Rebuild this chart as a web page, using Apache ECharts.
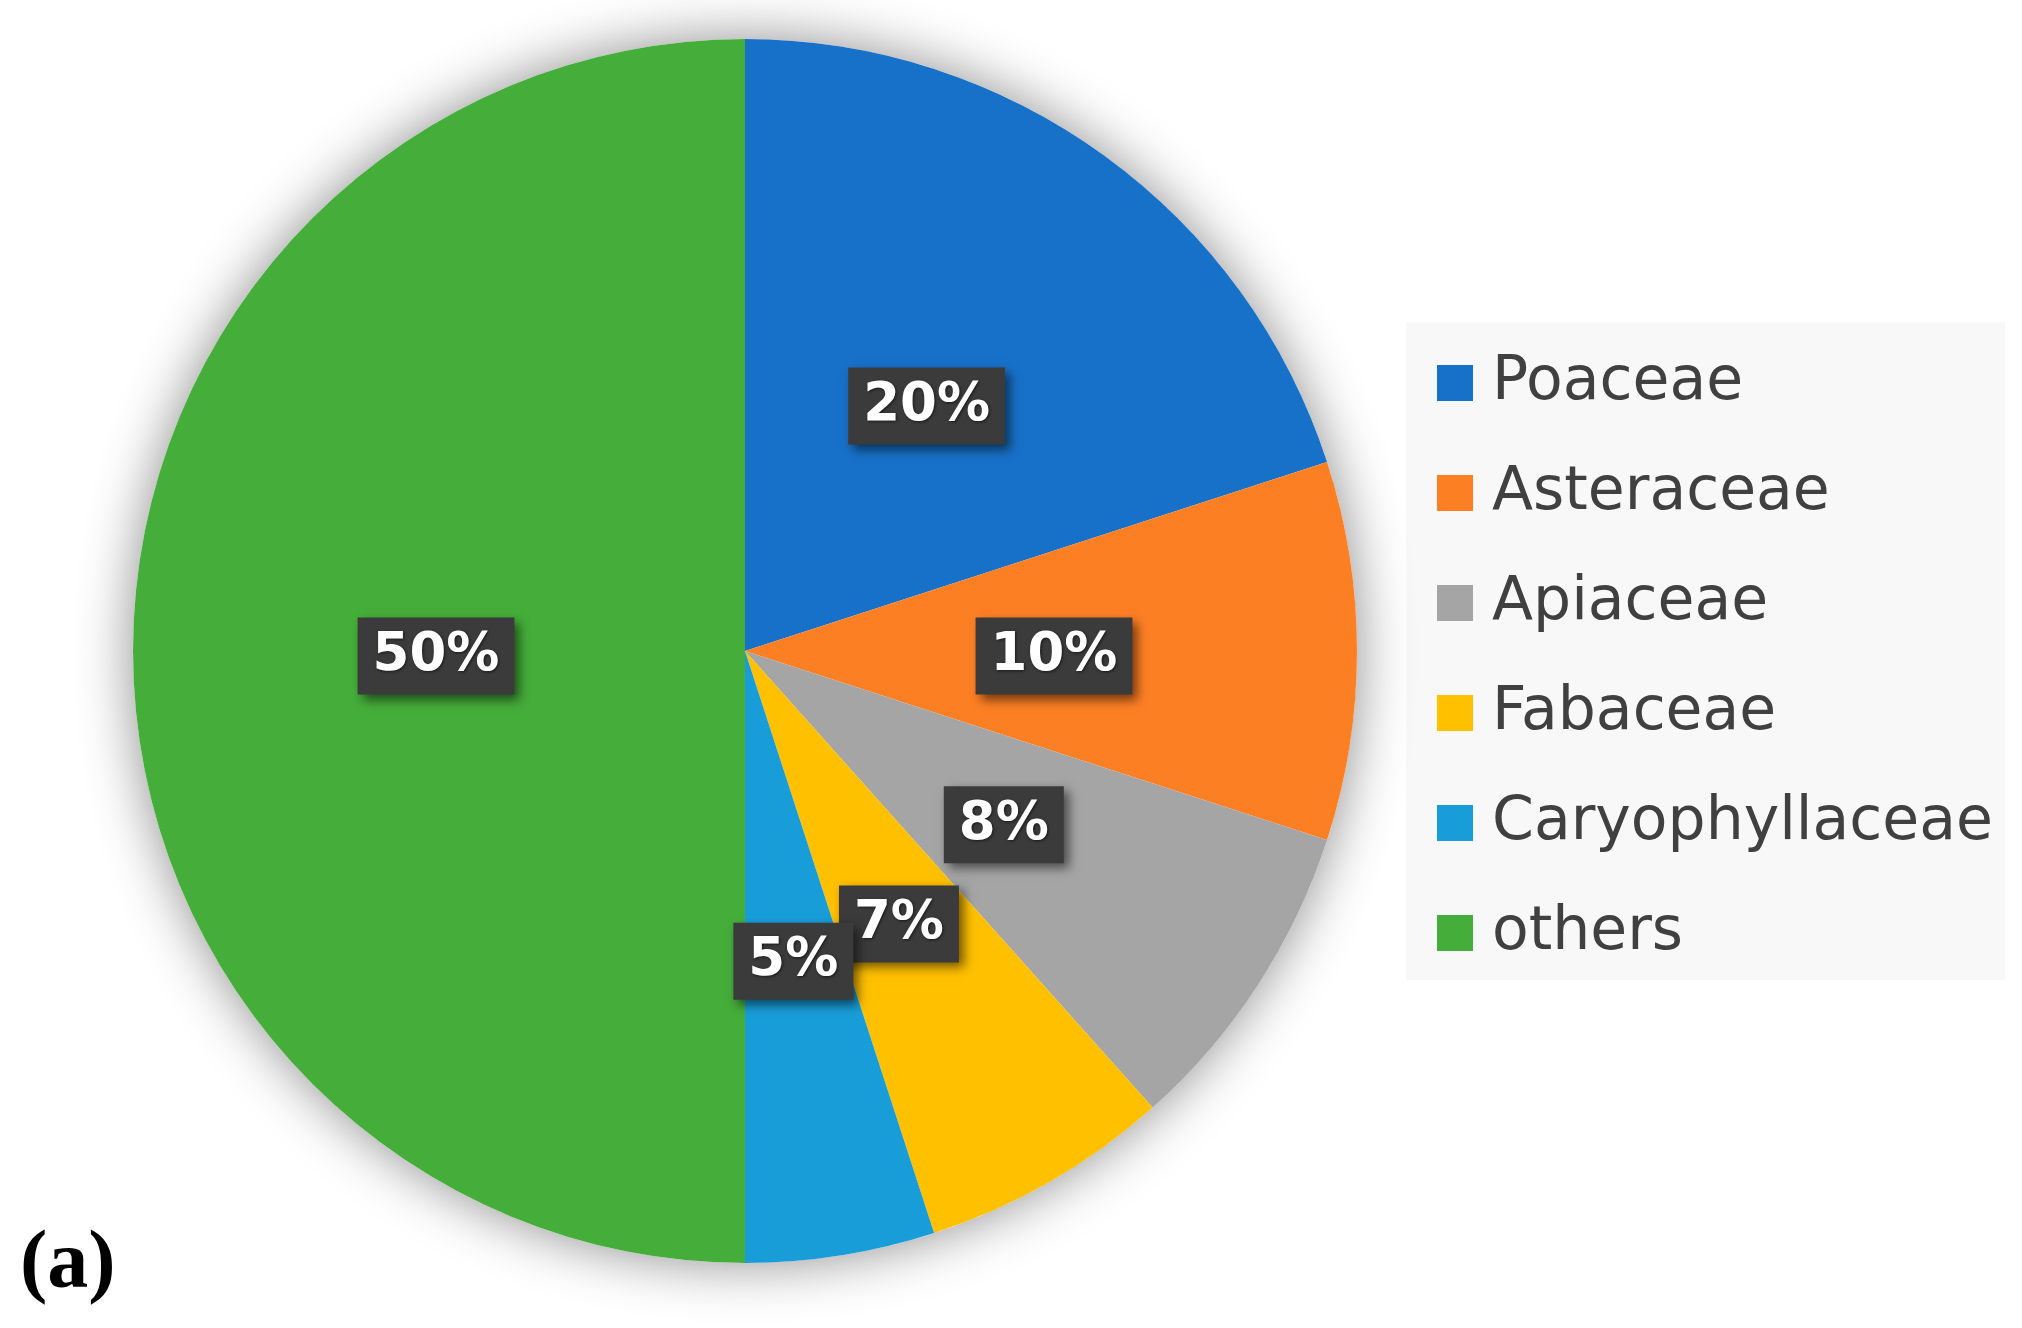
<!DOCTYPE html>
<html>
<head>
<meta charset="utf-8">
<style>
  html, body { margin: 0; padding: 0; background: #ffffff; }
  #chart { width: 2022px; height: 1328px; }
</style>
<script src="https://cdn.jsdelivr.net/npm/echarts@6/dist/echarts.min.js"></script>
</head>
<body>
<div id="chart"></div>
<script>
const categories = ['Poaceae', 'Asteraceae', 'Apiaceae', 'Fabaceae', 'Caryophyllaceae', 'others'];
const values = [20, 10, 8.4, 6.6, 5, 50];
const colors = ['#1871c9', '#fd7f24', '#a5a5a5', '#ffc000', '#199dd8', '#45ad3a'];

const chart = echarts.init(document.getElementById('chart'), null, { renderer: 'canvas' });

const pieData = categories.map((name, i) => ({
  name: name,
  value: values[i],
  itemStyle: { color: colors[i] }
}));

chart.setOption({
  backgroundColor: '#ffffff',
  animation: false,
  graphic: [
    {
      type: 'rect',
      z: -10,
      shape: { x: 1406, y: 322, width: 599, height: 658 },
      style: { fill: '#f8f8f8' },
      silent: true
    },
    {
      type: 'text',
      z: 10,
      style: {
        text: '(a)',
        x: 20,
        y: 1266,
        verticalAlign: 'middle',
        font: 'bold 82px "Liberation Serif"',
        fill: '#000000'
      }
    }
  ],
  legend: {
    orient: 'vertical',
    left: 1437,
    top: 348,
    padding: 0,
    itemWidth: 36,
    itemHeight: 36,
    itemGap: 40,
    icon: 'rect',
    data: categories,
    textStyle: {
      fontFamily: '"DejaVu Sans", Verdana, sans-serif',
      fontSize: 60,
      lineHeight: 70,
      color: '#404040',
      padding: [0, 0, 0, 14]
    }
  },
  series: [
    {
      type: 'pie',
      name: 'shadow',
      silent: true,
      center: [745, 651],
      radius: 612,
      z: 1,
      label: { show: false },
      labelLine: { show: false },
      emphasis: { disabled: true },
      itemStyle: {
        color: '#ffffff',
        shadowBlur: 55,
        shadowColor: 'rgba(0,0,0,0.45)',
        shadowOffsetX: 0,
        shadowOffsetY: 0
      },
      data: [{ value: 1, name: '' }]
    },
    {
      type: 'pie',
      name: 'families',
      center: [745, 651],
      radius: 612,
      startAngle: 90,
      clockwise: true,
      z: 2,
      avoidLabelOverlap: false,
      labelLayout: { hideOverlap: false },
      itemStyle: { borderWidth: 0 },
      emphasis: { disabled: true },
      label: {
        show: true,
        position: 'inside',
        offset: [0, 5],
        formatter: function (p) { return Math.round(p.value) + '%'; },
        fontFamily: '"DejaVu Sans", Verdana, sans-serif',
        fontSize: 53,
        fontWeight: 'bold',
        lineHeight: 62,
        color: '#ffffff',
        backgroundColor: '#3b3b3b',
        padding: [8, 15, 7, 15],
        shadowBlur: 10,
        shadowColor: 'rgba(0,0,0,0.55)',
        shadowOffsetX: 5,
        shadowOffsetY: 5,
        textShadowBlur: 3,
        textShadowColor: 'rgba(0,0,0,0.6)',
        textShadowOffsetX: 1,
        textShadowOffsetY: 1
      },
      labelLine: { show: false },
      data: pieData
    }
  ]
});
</script>
</body>
</html>
